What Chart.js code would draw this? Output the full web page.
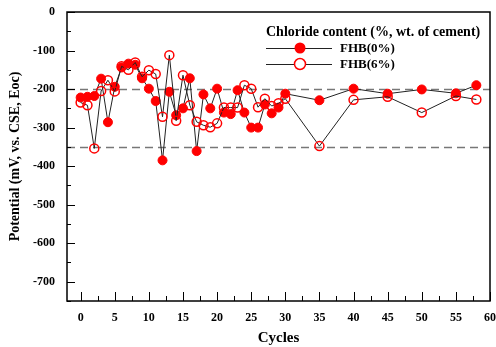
<!DOCTYPE html>
<html>
<head>
<meta charset="utf-8">
<script src="https://cdn.jsdelivr.net/npm/chart.js@4/dist/chart.umd.min.js"></script>
<style>
  body { margin: 0; background: #fff; }
</style>
</head>
<body>
<canvas id="chPotential" width="496" height="347"></canvas>
<script>
// data
var cycles = [0,1,2,3,4,5,6,7,8,9,10,11,12,13,14,15,16,17,18,19,20,21,22,23,24,25,26,27,28,29,30,35,40,45,50,55,58];
var fhb0 = [-222,-220,-218,-173,-286,-194,-144,-134,-137,-172,-199,-231,-385,-207,-268,-250,-172,-361,-214,-250,-199,-261,-265,-203,-261,-300,-300,-240,-263,-248,-212,-229,-199,-212,-201,-211,-190];
var fhb6 = [-235,-242,-354,-205,-177,-206,-141,-150,-131,-168,-151,-161,-272,-112,-282,-164,-242,-285,-294,-299,-289,-248,-248,-248,-190,-199,-247,-225,-244,-237,-225,-348,-228,-220,-261,-218,-227];
var seriesNames = ['FHB(0%)', 'FHB(6%)'];
var legendTitle = 'Chloride content (%, wt. of cement)';
var refLines = [-200, -350];
var xTicks = [0,5,10,15,20,25,30,35,40,45,50,55,60];
var yTicks = [0,-100,-200,-300,-400,-500,-600,-700];

var red = '#ff0000';
var lineColor = '#222';
var serif = '"Liberation Serif", "Times New Roman", serif';

function pts(ys) {
  return cycles.map(function (c, i) { return {x: c, y: ys[i]}; });
}

// box, inward ticks, dashed reference lines, legend
var framePlugin = {
  id: 'frame',
  beforeDatasetsDraw: function (chart) {
    var ctx = chart.ctx, a = chart.chartArea;
    var ys = chart.scales.y;
    ctx.save();
    ctx.strokeStyle = '#777';
    ctx.lineWidth = 1.5;
    ctx.setLineDash([8, 5]);
    refLines.forEach(function (v) {
      var py = Math.round(ys.getPixelForValue(v)) + 0.5;
      ctx.beginPath();
      ctx.moveTo(a.left, py);
      ctx.lineTo(a.right, py);
      ctx.stroke();
    });
    ctx.restore();
  },
  afterDraw: function (chart) {
    var ctx = chart.ctx, a = chart.chartArea;
    var xs = chart.scales.x, ys = chart.scales.y;
    ctx.save();
    ctx.strokeStyle = '#000';
    ctx.lineWidth = 1.5;
    ctx.strokeRect(a.left, a.top, a.right - a.left, a.bottom - a.top);
    ctx.lineWidth = 1;
    ctx.beginPath();
    for (var v = 0; v <= 60; v += 2.5) {
      var px = Math.round(xs.getPixelForValue(v)) + 0.5;
      var len = (v % 5 === 0) ? 9 : 5;
      ctx.moveTo(px, a.bottom);
      ctx.lineTo(px, a.bottom - len);
    }
    for (var w = 0; w >= -750; w -= 50) {
      var py = Math.round(ys.getPixelForValue(w)) + 0.5;
      var l2 = (w % 100 === 0) ? 8 : 4;
      ctx.moveTo(a.left, py);
      ctx.lineTo(a.left + l2, py);
    }
    ctx.stroke();

    // legend
    var lx = 266, ly = 32;
    ctx.fillStyle = '#000';
    ctx.font = 'bold 14px ' + serif;
    ctx.textBaseline = 'middle';
    ctx.fillText(legendTitle, lx, ly);
    ctx.font = 'bold 13px ' + serif;
    chart.data.datasets.forEach(function (ds, i) {
      var y = ly + 16 + i * 16;
      ctx.strokeStyle = lineColor;
      ctx.lineWidth = 1;
      ctx.beginPath();
      ctx.moveTo(lx, y + 0.5);
      ctx.lineTo(lx + 66, y + 0.5);
      ctx.stroke();
      ctx.beginPath();
      ctx.arc(lx + 34, y, 5.5, 0, Math.PI * 2);
      if (i === 0) {
        ctx.fillStyle = red;
        ctx.fill();
      } else {
        ctx.fillStyle = '#fff';
        ctx.fill();
        ctx.strokeStyle = red;
        ctx.lineWidth = 1.5;
        ctx.stroke();
      }
      ctx.fillStyle = '#000';
      ctx.fillText(ds.label, lx + 74, y + 1);
    });
    ctx.restore();
  }
};

new Chart(document.getElementById('chPotential'), {
  type: 'scatter',
  data: {
    datasets: [
      {
        label: seriesNames[0],
        data: pts(fhb0),
        showLine: true,
        borderColor: lineColor,
        borderWidth: 1,
        pointRadius: 4.5,
        pointBackgroundColor: red,
        pointBorderColor: red,
        pointBorderWidth: 1,
        order: 1
      },
      {
        label: seriesNames[1],
        data: pts(fhb6),
        showLine: true,
        borderColor: lineColor,
        borderWidth: 1,
        pointRadius: 4.5,
        pointBackgroundColor: 'rgba(255,255,255,0)',
        pointBorderColor: red,
        pointBorderWidth: 1.5,
        order: 0
      }
    ]
  },
  options: {
    responsive: false,
    animation: false,
    layout: {padding: {top: 12, right: 6, left: 0, bottom: 0}},
    plugins: {legend: {display: false}, tooltip: {enabled: false}},
    scales: {
      x: {
        type: 'linear',
        min: -2, max: 60,
        afterBuildTicks: function (s) { s.ticks = xTicks.map(function (v) { return {value: v}; }); },
        afterFit: function (s) { s.height = 46; s.paddingLeft = 0; s.paddingRight = 0; },
        grid: {display: false, drawTicks: false, tickLength: 0},
        border: {display: false},
        ticks: {color: '#000', font: {family: serif, size: 12, weight: 'bold'}, padding: 10, maxRotation: 0},
        title: {display: true, text: 'Cycles', color: '#000', font: {family: serif, size: 15, weight: 'bold'}, padding: {top: 3, bottom: 0}}
      },
      y: {
        type: 'linear',
        min: -750, max: 0,
        afterBuildTicks: function (s) { s.ticks = yTicks.map(function (v) { return {value: v}; }); },
        afterFit: function (s) { s.width = 67; s.paddingTop = 0; s.paddingBottom = 0; },
        grid: {display: false, drawTicks: false, tickLength: 0},
        border: {display: false},
        ticks: {color: '#000', font: {family: serif, size: 12, weight: 'bold'}, padding: 12},
        title: {display: true, text: 'Potential (mV, vs. CSE, Eoc)', color: '#000', font: {family: serif, size: 14, weight: 'bold'}, padding: {top: 7, bottom: 0}}
      }
    }
  },
  plugins: [framePlugin]
});
</script>
</body>
</html>
